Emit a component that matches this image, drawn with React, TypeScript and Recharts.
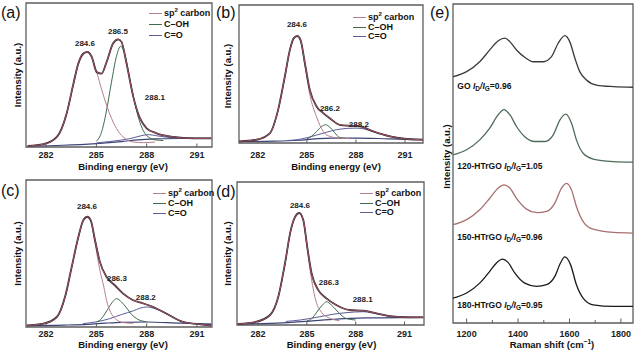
import React from 'react';
import { LineChart, Line, XAxis, YAxis, ReferenceArea, ReferenceDot, Legend } from 'recharts';

type Pt = [number, number];

const FONT = '"Liberation Sans", Arial, sans-serif';
const FRAME = '#5e5e5e';

// ---------- shared tick / legend values ----------
const XPS_TICKS = [282, 285, 288, 291];
const RAMAN_TICKS = [1200, 1300, 1400, 1500, 1600, 1700, 1800];
const LEGEND_NAMES = ['sp2 carbon', 'C–OH', 'C=O'];
const LEGEND_COLORS = ['#b77f8e', '#3f6a4c', '#5d5c98'];

// ---------- (a) ----------
const A_ENVELOPE: Pt[] = [[280.9,0.7],[281.84,2],[282.64,7],[283.23,23.5],[283.63,44],[283.92,58],[284.22,65],[284.46,66],[284.72,62.7],[285.02,52],[285.31,51],[285.61,59],[286.0,72],[286.3,74.8],[286.5,73],[286.8,58],[287.2,35],[287.6,20],[288.0,13],[288.6,9.5],[289.6,7],[290.75,6],[291.85,6]];
const A_SP2: Pt[] = [[280.9,0.5],[281.84,1.8],[282.64,6.5],[283.23,23],[283.63,43],[283.92,57],[284.22,64],[284.46,65.5],[284.72,62],[285.02,52],[285.31,40],[285.61,29],[285.9,20],[286.3,11],[286.7,6],[287.2,3.5],[287.8,3],[288.5,3.5]];
const A_COH: Pt[] = [[285.0,4],[285.3,10],[285.6,25],[285.9,45],[286.2,63],[286.45,70],[286.7,64],[287.0,47],[287.3,30],[287.6,17],[288.0,8],[288.5,5],[289.0,4.5]];
const A_CO: Pt[] = [[285.0,2.8],[285.8,3.8],[286.5,4.8],[287.0,5.8],[287.6,7.6],[288.1,8.6],[288.6,7.8],[289.2,6.8],[290.0,6.2],[291.85,6]];
const A_BG: Pt[] = [[280.9,0.6],[283,1.2],[285,2.4],[286.5,3.8],[287.5,5],[288.5,5.6],[290,5.9],[291.85,6]];
const A_PEAK_LABELS = ['284.6', '286.5', '288.1'];
const A_PEAK_POS: Pt[] = [[284.32,72.2],[286.29,80.6],[288.49,34.7]];

// ---------- (b) ----------
const B_ENVELOPE: Pt[] = [[280.85,1.2],[281.92,2.4],[282.73,7],[283.24,24],[283.65,48],[283.96,67.5],[284.2,76],[284.41,77.6],[284.61,74.7],[284.88,57.8],[285.18,38.5],[285.59,26.5],[286.0,21.7],[286.4,18],[287.0,13.2],[287.63,12.5],[288.25,12],[289.06,8.4],[290.08,4.8],[291.1,2.9],[292.1,2.4]];
const B_SP2: Pt[] = [[280.85,1],[281.92,2.2],[282.73,6.8],[283.24,23.5],[283.65,47.5],[283.96,67],[284.2,75.5],[284.41,77],[284.61,74],[284.88,56],[285.18,35],[285.59,19],[286.0,8.4],[286.4,4.8],[287.0,3.5],[287.6,3.2]];
const B_COH: Pt[] = [[285.0,3],[285.3,5],[285.6,8.4],[285.9,12],[286.15,13.2],[286.4,11.5],[286.7,7.5],[287.0,4],[287.4,3.3]];
const B_CO: Pt[] = [[283.8,1.8],[284.4,2.4],[285.0,3.8],[285.6,5.8],[286.2,7.8],[286.8,9.6],[287.5,10.6],[288.0,10.8],[288.5,10.2],[289.06,8.2],[289.7,6],[290.3,4.3],[291.2,2.9],[292.1,2.4]];
const B_BG: Pt[] = [[280.85,1],[283,1.3],[284.5,2],[285.5,3],[286.5,3.6],[288,3.6],[290,3],[292.1,2.4]];
const B_PEAK_LABELS = ['284.6', '286.2', '288.2'];
const B_PEAK_POS: Pt[] = [[284.39,86.3],[286.41,25.5],[288.18,14]];

// ---------- (c) ----------
const C_ENVELOPE: Pt[] = [[280.85,1.1],[281.84,2.3],[282.64,6.8],[283.13,20.5],[283.53,41],[283.92,61],[284.22,72.7],[284.46,75],[284.66,72.7],[284.92,59],[285.21,44.3],[285.61,34],[286.1,28.4],[286.6,22.7],[287.2,18.2],[287.8,16],[288.4,13.6],[289.2,9],[290.2,3.4],[291.2,1.8],[291.85,1.1]];
const C_SP2: Pt[] = [[280.85,1],[281.84,2.2],[282.64,6.6],[283.13,20],[283.53,40.5],[283.92,60.5],[284.22,72],[284.46,74.5],[284.66,72],[284.92,57],[285.21,38.6],[285.45,27],[285.61,18],[285.85,10],[286.1,6],[286.6,3],[287.2,2.5]];
const C_COH: Pt[] = [[285.0,3.5],[285.2,4.5],[285.45,8],[285.7,12.5],[286.0,17.5],[286.2,19.3],[286.5,17],[286.8,13],[287.1,8.5],[287.4,5.7],[288.0,3.5]];
const C_CO: Pt[] = [[284.2,2.3],[285.0,3.5],[285.8,5.7],[286.5,8.5],[287.2,11],[287.6,12.8],[288.0,13.6],[288.5,12.5],[289.0,10],[289.6,6.5],[290.2,3.4],[291.0,2.2],[291.85,2]];
const C_BG: Pt[] = [[280.85,1],[283,1.3],[284.5,1.8],[285.5,2.6],[286.5,3.2],[288,3.4],[290,2.6],[291.85,2]];
const C_PEAK_LABELS = ['284.6', '286.3', '288.2'];
const C_PEAK_POS: Pt[] = [[284.44,82.3],[286.23,33.2],[287.95,20.2]];

// ---------- (d) ----------
const D_ENVELOPE: Pt[] = [[280.75,0.7],[281.9,2.3],[282.73,7],[283.24,19.8],[283.65,43],[284.0,66],[284.27,75.6],[284.53,78.4],[284.78,73.3],[285.02,54.6],[285.29,36],[285.7,24.4],[286.2,18.6],[286.8,14],[287.63,10.5],[288.45,10],[289.27,8.2],[290.3,5.8],[291.3,5.4],[292.15,5.4]];
const D_SP2: Pt[] = [[280.75,0.6],[281.9,2.2],[282.73,6.8],[283.24,19.5],[283.65,42.5],[284.0,65.5],[284.27,75],[284.53,77.8],[284.78,72.5],[285.02,53],[285.2,38],[285.4,24.4],[285.6,15],[285.8,10.5],[286.2,5.8],[287.0,3]];
const D_COH: Pt[] = [[285.0,3],[285.2,3.5],[285.45,6.5],[285.7,10.5],[286.0,14.5],[286.2,16.3],[286.5,14],[286.8,10.5],[287.1,7],[287.4,4.6],[288.0,3.5]];
const D_CO: Pt[] = [[283.7,2.5],[284.6,3.5],[285.8,5.8],[286.6,7.5],[287.4,8.6],[288.45,9.3],[289.5,7.4],[290.7,5.8],[292.15,5.4]];
const D_BG: Pt[] = [[280.75,0.7],[283.5,1.5],[285.5,3],[287,4.3],[289,5],[292.15,5.4]];
const D_PEAK_LABELS = ['284.6', '286.3', '288.1'];
const D_PEAK_POS: Pt[] = [[284.57,83.7],[286.35,30],[288.43,18.1]];

// ---------- (e) Raman ----------
const RAMAN_GO: Pt[] = [[1147,77.2],[1200,78.8],[1251,81.9],[1290,85.6],[1323,88.5],[1349,89.3],[1368,88.2],[1394,85.6],[1426,83.3],[1459,81.9],[1498,81.9],[1530,83.5],[1556,87.7],[1582,90.1],[1601,88.2],[1621,83],[1640,78.8],[1666,76.2],[1705,74.6],[1770,74.1],[1847,73.9]];
const RAMAN_120: Pt[] = [[1147,52.7],[1200,54.3],[1251,57.4],[1290,61.1],[1323,65.3],[1345,66.9],[1368,65.3],[1394,61.6],[1426,58.4],[1465,56.9],[1504,56.9],[1537,59],[1563,63.7],[1586,65.5],[1608,62.6],[1627,57.4],[1653,53.2],[1692,51.4],[1770,50.6],[1847,50.4]];
const RAMAN_150: Pt[] = [[1147,30.8],[1200,32.4],[1251,35.5],[1290,39.1],[1323,42.3],[1346,43.3],[1368,42.3],[1394,39.1],[1433,35.7],[1472,34.6],[1511,35],[1543,37.6],[1569,42.3],[1589,43.8],[1608,41.7],[1627,36.5],[1653,31.8],[1692,29.4],[1770,28.4],[1847,28.2]];
const RAMAN_180: Pt[] = [[1147,7.8],[1200,9.4],[1251,12.5],[1290,16.2],[1316,18.8],[1339,20],[1361,19],[1387,15.7],[1426,12.5],[1472,11.5],[1511,12],[1543,14.6],[1565,18.8],[1582,20.7],[1604,18.3],[1627,12],[1653,7.8],[1692,5.7],[1770,5.2],[1847,5.2]];
const RAMAN_SERIES = [RAMAN_GO, RAMAN_120, RAMAN_150, RAMAN_180];
const RAMAN_COLORS = ['#3a3a3a', '#4f6b58', '#a87070', '#1a1a1a'];
const RAMAN_NAMES = ['GO', '120-HTrGO', '150-HTrGO', '180-HTrGO'];
const RAMAN_RATIOS = ['0.96', '1.05', '0.96', '0.95'];
const RAMAN_LABEL_POS: Pt[] = [[1164,74.3],[1164,49.3],[1164,27.1],[1164,5.6]];

const rows = (pts: Pt[]) => pts.map(([x, y]) => ({ x, y }));

interface Layout {
  left: number; top: number; width: number; height: number;
  marginTop: number; marginRight: number; yAxisWidth: number; xAxisHeight: number;
  domain: [number, number]; tickDy: number; titleDy: number; titleDx: number;
  yLabelX: number; yLabelDy: number; legendLeft: number; legendTop: number; legendRow: number;
}

const tickRenderer = (dy: number, labelled: (v: number) => boolean, majorLen: number, minorLen: number) =>
  (props: any) => {
    const { x, y, payload } = props;
    const v = payload.value;
    const major = labelled(v);
    return (
      <g>
        <line x1={x} x2={x} y1={y} y2={y - (major ? majorLen : minorLen)} stroke={FRAME} strokeWidth={1} />
        {major && (
          <text x={x} y={y + dy} textAnchor="middle" dominantBaseline="central" fontSize={9} fontWeight="bold" fill="#222" fontFamily={FONT}>
            {v}
          </text>
        )}
      </g>
    );
  };

const xTitle = (L: Layout, content: React.ReactNode) => () => {
  const plotW = L.width - L.yAxisWidth - L.marginRight;
  const cx = L.yAxisWidth + plotW / 2 + L.titleDx;
  const cy = L.height - L.xAxisHeight + L.titleDy;
  return (
    <text x={cx} y={cy} textAnchor="middle" dominantBaseline="central" fontSize={9.5} fontWeight="bold" fill="#111" fontFamily={FONT}>
      {content}
    </text>
  );
};

const yTitle = (L: Layout) => () => {
  const plotH = L.height - L.marginTop - L.xAxisHeight;
  const cx = L.yLabelX;
  const cy = L.marginTop + plotH / 2 + L.yLabelDy;
  return (
    <text x={cx} y={cy} transform={`rotate(-90, ${cx}, ${cy})`} textAnchor="middle" dominantBaseline="central" fontSize={9.5} fontWeight="bold" fill="#111" fontFamily={FONT}>
      Intensity (a.u.)
    </text>
  );
};

const legendContent = (rowH: number) => () => (
  <div style={{ fontFamily: FONT, fontSize: 9, fontWeight: 'bold', color: '#111' }}>
    {LEGEND_NAMES.map((n, i) => (
      <div key={n} style={{ display: 'flex', alignItems: 'center', height: rowH, lineHeight: `${rowH}px`, whiteSpace: 'nowrap' }}>
        <span style={{ display: 'inline-block', width: 13, height: 0, borderTop: `1.5px solid ${LEGEND_COLORS[i]}`, marginRight: 2 }} />
        {i === 0 ? (
          <span>sp<sup style={{ fontSize: 6, lineHeight: 0, verticalAlign: 'super' }}>2</sup> carbon</span>
        ) : (
          <span>{n}</span>
        )}
      </div>
    ))}
  </div>
);

interface XpsCfg {
  layout: Layout; env: Pt[]; sp2: Pt[]; coh: Pt[]; co: Pt[]; bg: Pt[]; labels: string[]; pos: Pt[];
}

function XpsPanel({ c }: { c: XpsCfg }) {
  const L = c.layout;
  return (
    <div style={{ position: 'absolute', left: L.left, top: L.top }}>
      <LineChart width={L.width} height={L.height} margin={{ top: L.marginTop, right: L.marginRight, bottom: 0, left: 0 }}>
        <XAxis type="number" dataKey="x" domain={L.domain} allowDataOverflow ticks={XPS_TICKS} interval={0}
          tickLine={false} axisLine={false} tickSize={0} tickMargin={0} height={L.xAxisHeight}
          tick={tickRenderer(L.tickDy, () => true, 3.5, 2)} label={xTitle(L, 'Binding energy (eV)')} />
        <YAxis type="number" domain={[0, 100]} allowDataOverflow width={L.yAxisWidth} tick={false} tickLine={false} axisLine={false}
          label={yTitle(L)} />
        <ReferenceArea x1={L.domain[0]} x2={L.domain[1]} y1={0} y2={100} fill="none" stroke={FRAME} strokeWidth={1.3} ifOverflow="visible" />
        <Line data={rows(c.bg)} dataKey="y" type="monotone" stroke="#3c4478" strokeWidth={1.2} dot={false} activeDot={false} isAnimationActive={false} />
        <Line data={rows(c.co)} dataKey="y" type="monotone" stroke={LEGEND_COLORS[2]} strokeWidth={1} dot={false} activeDot={false} isAnimationActive={false} />
        <Line data={rows(c.coh)} dataKey="y" type="monotone" stroke={LEGEND_COLORS[1]} strokeWidth={1} dot={false} activeDot={false} isAnimationActive={false} />
        <Line data={rows(c.sp2)} dataKey="y" type="monotone" stroke={LEGEND_COLORS[0]} strokeWidth={1} dot={false} activeDot={false} isAnimationActive={false} />
        <Line data={rows(c.env)} dataKey="y" type="monotone" stroke="#2a2a2a" strokeWidth={1.8} dot={false} activeDot={false} isAnimationActive={false} />
        <Line data={rows(c.env)} dataKey="y" type="monotone" stroke="#c25a72" strokeWidth={0.8} dot={false} activeDot={false} isAnimationActive={false} />
        {c.labels.map((lab, i) => (
          <ReferenceDot key={lab + i} x={c.pos[i][0]} y={c.pos[i][1]} r={0} fill="none" stroke="none"
            label={{ value: lab, position: 'center', fontSize: 8, fontWeight: 'bold', fill: '#222', fontFamily: FONT }} />
        ))}
        <Legend layout="horizontal" verticalAlign="middle" align="center"
          wrapperStyle={{ left: L.legendLeft, top: L.legendTop, width: 'auto', height: 'auto' }}
          content={legendContent(L.legendRow)} />
      </LineChart>
    </div>
  );
}

const LAYOUT_A: Layout = { left: 0, top: 0, width: 225, height: 172, marginTop: 3, marginRight: 13, yAxisWidth: 26, xAxisHeight: 25, domain: [280.8, 291.9], tickDy: 8, titleDy: 19.5, titleDx: 4, yLabelX: 17, yLabelDy: 0, legendLeft: 149, legendTop: 8, legendRow: 11 };
const LAYOUT_B: Layout = { left: 220, top: 0, width: 215, height: 172, marginTop: 5, marginRight: 12, yAxisWidth: 19, xAxisHeight: 29, domain: [280.85, 292.1], tickDy: 12, titleDy: 23.5, titleDx: 5, yLabelX: 7, yLabelDy: 2, legendLeft: 133, legendTop: 13, legendRow: 9.5 };
const LAYOUT_C: Layout = { left: 0, top: 172, width: 225, height: 183, marginTop: 8, marginRight: 13, yAxisWidth: 26, xAxisHeight: 28, domain: [280.8, 291.9], tickDy: 7, titleDy: 17, titleDx: 4, yLabelX: 17, yLabelDy: 0, legendLeft: 153, legendTop: 16, legendRow: 10 };
const LAYOUT_D: Layout = { left: 220, top: 172, width: 215, height: 183, marginTop: 10, marginRight: 11, yAxisWidth: 17, xAxisHeight: 30, domain: [280.7, 292.2], tickDy: 8.5, titleDy: 19, titleDx: 1, yLabelX: 7, yLabelDy: 0, legendLeft: 140, legendTop: 17, legendRow: 9.5 };
const LAYOUT_E: Layout = { left: 435, top: 0, width: 205, height: 355, marginTop: 4, marginRight: 7, yAxisWidth: 18, xAxisHeight: 32, domain: [1147, 1847], tickDy: 10.5, titleDy: 21, titleDx: 9, yLabelX: 11, yLabelDy: -7, legendLeft: 0, legendTop: 0, legendRow: 0 };

const PANELS: XpsCfg[] = [
  { layout: LAYOUT_A, env: A_ENVELOPE, sp2: A_SP2, coh: A_COH, co: A_CO, bg: A_BG, labels: A_PEAK_LABELS, pos: A_PEAK_POS },
  { layout: LAYOUT_B, env: B_ENVELOPE, sp2: B_SP2, coh: B_COH, co: B_CO, bg: B_BG, labels: B_PEAK_LABELS, pos: B_PEAK_POS },
  { layout: LAYOUT_C, env: C_ENVELOPE, sp2: C_SP2, coh: C_COH, co: C_CO, bg: C_BG, labels: C_PEAK_LABELS, pos: C_PEAK_POS },
  { layout: LAYOUT_D, env: D_ENVELOPE, sp2: D_SP2, coh: D_COH, co: D_CO, bg: D_BG, labels: D_PEAK_LABELS, pos: D_PEAK_POS },
];

const ramanLabel = (name: string, ratio: string) => (props: any) => {
  const vb = props.viewBox || { x: 0, y: 0 };
  return (
    <text x={vb.x} y={vb.y} dominantBaseline="central" fontSize={8.5} fontWeight="bold" fill="#111" fontFamily={FONT}>
      <tspan>{name} </tspan>
      <tspan fontStyle="italic">I</tspan>
      <tspan fontSize={6.5} dy={2}>D</tspan>
      <tspan dy={-2} fontStyle="italic">/I</tspan>
      <tspan fontSize={6.5} dy={2}>G</tspan>
      <tspan dy={-2}>={ratio}</tspan>
    </text>
  );
};

function RamanPanel() {
  const L = LAYOUT_E;
  return (
    <div style={{ position: 'absolute', left: L.left, top: L.top }}>
      <LineChart width={L.width} height={L.height} margin={{ top: L.marginTop, right: L.marginRight, bottom: 0, left: 0 }}>
        <XAxis type="number" dataKey="x" domain={L.domain} allowDataOverflow ticks={RAMAN_TICKS} interval={0}
          tickLine={false} axisLine={false} tickSize={0} tickMargin={0} height={L.xAxisHeight}
          tick={tickRenderer(L.tickDy, (v) => v % 200 === 0, 4.5, 3)}
          label={xTitle(L, <>Raman shift (cm<tspan fontSize={6.5} dy={-3.5}>−1</tspan><tspan dy={3.5}>)</tspan></>)} />
        <YAxis type="number" domain={[0, 100]} allowDataOverflow width={L.yAxisWidth} tick={false} tickLine={false} axisLine={false}
          label={yTitle(L)} />
        <ReferenceArea x1={L.domain[0]} x2={L.domain[1]} y1={0} y2={100} fill="none" stroke={FRAME} strokeWidth={1.3} ifOverflow="visible" />
        {RAMAN_SERIES.map((s, i) => (
          <Line key={RAMAN_NAMES[i]} data={rows(s)} dataKey="y" type="monotone" stroke={RAMAN_COLORS[i]} strokeWidth={1.3}
            dot={false} activeDot={false} isAnimationActive={false} />
        ))}
        {RAMAN_NAMES.map((n, i) => (
          <ReferenceDot key={'lab' + n} x={RAMAN_LABEL_POS[i][0]} y={RAMAN_LABEL_POS[i][1]} r={0} fill="none" stroke="none"
            label={ramanLabel(n, RAMAN_RATIOS[i])} />
        ))}
      </LineChart>
    </div>
  );
}

const PANEL_LETTERS = ['(a)', '(b)', '(c)', '(d)', '(e)'];
const LETTER_POS: Pt[] = [[1, 5], [216, 5], [1, 183], [216, 184], [430, 5]];

export default function App() {
  return (
    <div style={{ position: 'absolute', left: 0, top: 0, width: 640, height: 355, background: '#fff', overflow: 'hidden' }}>
      {PANELS.map((c, i) => <XpsPanel key={i} c={c} />)}
      <RamanPanel />
      {PANEL_LETTERS.map((t, i) => (
        <div key={t} style={{ position: 'absolute', left: LETTER_POS[i][0], top: LETTER_POS[i][1], fontFamily: FONT, fontSize: 16, lineHeight: '16px', color: '#111' }}>
          {t}
        </div>
      ))}
    </div>
  );
}
